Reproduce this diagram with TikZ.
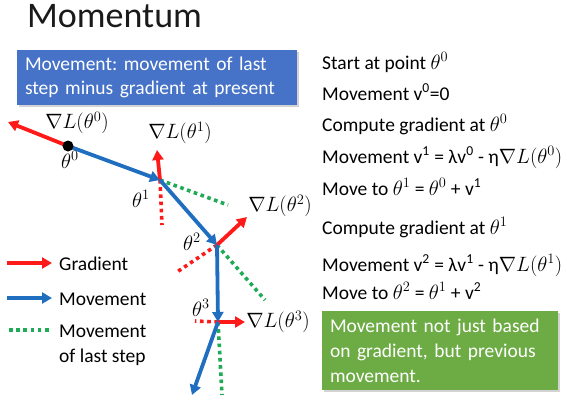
\documentclass[tikz,border=0pt]{standalone}
\usepackage{fontspec}
\setmainfont{Carlito}
\frenchspacing
\usetikzlibrary{arrows.meta,shadows}
\definecolor{myred}{HTML}{FF1A1A}
\definecolor{myblue}{HTML}{1F6EBF}
\definecolor{mygreen}{HTML}{1FAA55}
\definecolor{boxblue}{HTML}{4673C8}
\definecolor{boxgreen}{HTML}{6DAC44}
\definecolor{titlegray}{HTML}{1A1A1A}
\begin{document}
\begin{tikzpicture}[x=1pt,y=-1pt,
  grad/.style={myred, line width=3.8pt, -{Triangle[length=10pt,width=11pt]}},
  move/.style={myblue, line width=3.8pt, -{Triangle[length=10pt,width=11pt]}},
  lastmove/.style={mygreen, line width=3.6pt, dash pattern=on 3.6pt off 3.6pt},
  neggrad/.style={myred, line width=3.6pt, dash pattern=on 3.6pt off 3.6pt},
  lbl/.style={font=\fontsize{20}{24}\selectfont, inner sep=0pt},
  txt/.style={font=\fontsize{19.5}{24}\selectfont, inner sep=0pt, anchor=base west},
  boxtxt/.style={font=\fontsize{19.5}{23.5}\selectfont, text=white, align=left,
    inner xsep=8pt, inner ysep=0pt, drop shadow={opacity=0.35, shadow xshift=2pt, shadow yshift=-2pt}},
]
\useasboundingbox (0,0) rectangle (567,400);

% title
\node[anchor=base west, inner sep=0pt, text=titlegray, font=\fontsize{36}{40}\selectfont] (title) at (27,27) {Momentum};

% blue box
\node[boxtxt, fill=boxblue, minimum width=280pt, minimum height=55pt, text width=264pt] (bluebox) at (157,77.5)
  {Movement: movement of last\\step minus gradient at present};

% points
\coordinate (t0) at (68,146);
\coordinate (t1) at (160,180);
\coordinate (t2) at (217,245);
\coordinate (t3) at (218,322);
\coordinate (t4) at (192,395);
\coordinate (g0) at (8,122);
\coordinate (g1) at (157,150);
\coordinate (g2) at (247,217);
\coordinate (g3) at (245,322);
\coordinate (n1) at (162,225);
\coordinate (n2) at (177,272);
\coordinate (n3) at (195,321);
\coordinate (m1) at (228,205);
\coordinate (m2) at (265,300);
\coordinate (m3) at (222,395);

% dotted lines
\draw[lastmove] (t1) -- (m1);
\draw[lastmove] (t2) -- (m2);
\draw[lastmove] (t3) -- (m3);
\draw[neggrad] (t1) -- (n1);
\draw[neggrad] (t2) -- (n2);
\draw[neggrad] (t3) -- (n3);

% gradients
\draw[grad] (t0) -- (g0);
\draw[grad] (t1) -- (g1);
\draw[grad] (t2) -- (g2);
\draw[grad] (t3) -- (g3);

% movements
\draw[move] (t0) -- (t1);
\draw[move] (t1) -- (t2);
\draw[move] (t2) -- (t3);
\draw[move] (t3) -- (t4);

\node[circle, fill=black, minimum size=11pt, inner sep=0pt] (dot0) at (t0) {};

% labels
\node[lbl] (lg0) at (77,123) {$\nabla L(\theta^0)$};
\node[lbl] (lg1) at (180,133) {$\nabla L(\theta^1)$};
\node[lbl] (lg2) at (280,206) {$\nabla L(\theta^2)$};
\node[lbl] (lg3) at (278,322) {$\nabla L(\theta^3)$};
\node[lbl] (lt0) at (70,160) {$\theta^0$};
\node[lbl] (lt1) at (141,199) {$\theta^1$};
\node[lbl] (lt2) at (192,242) {$\theta^2$};
\node[lbl] (lt3) at (201,308) {$\theta^3$};

% legend
\coordinate (la1) at (7,263);
\coordinate (la2) at (52,263);
\coordinate (lb1) at (7,298);
\coordinate (lb2) at (52,298);
\coordinate (lc1) at (9,330);
\coordinate (lc2) at (52,330);
\draw[grad] (la1) -- (la2);
\draw[move] (lb1) -- (lb2);
\draw[lastmove] (lc1) -- (lc2);
\node[txt] (leg1) at (59,270) {Gradient};
\node[txt] (leg2) at (59,305) {Movement};
\node[txt] (leg3) at (59,337) {Movement};
\node[txt] (leg4) at (59,362) {of last step};

% right text
\node[txt] (r1) at (322,69) {Start at point $\theta^0$};
\node[txt] (r2) at (322,100) {Movement v\textsuperscript{0}=0};
\node[txt] (r3) at (322,131) {Compute gradient at $\theta^0$};
\node[txt] (r4) at (322,163) {Movement v\textsuperscript{1} = λv\textsuperscript{0} - η$\nabla L(\theta^0)$};
\node[txt] (r5) at (322,195) {Move to $\theta^1$ = $\theta^0$ + v\textsuperscript{1}};
\node[txt] (r6) at (322,234) {Compute gradient at $\theta^1$};
\node[txt] (r7) at (322,271) {Movement v\textsuperscript{2} = λv\textsuperscript{1} - η$\nabla L(\theta^1)$};
\node[txt] (r8) at (322,299) {Move to $\theta^2$ = $\theta^1$ + v\textsuperscript{2}};

% green box
\node[boxtxt, fill=boxgreen, minimum width=236pt, minimum height=79pt, text width=220pt, font=\fontsize{19.5}{25}\selectfont] (greenbox) at (440,350.5)
  {Movement not just based\\on gradient, but previous\\movement.};
\end{tikzpicture}
\end{document}
